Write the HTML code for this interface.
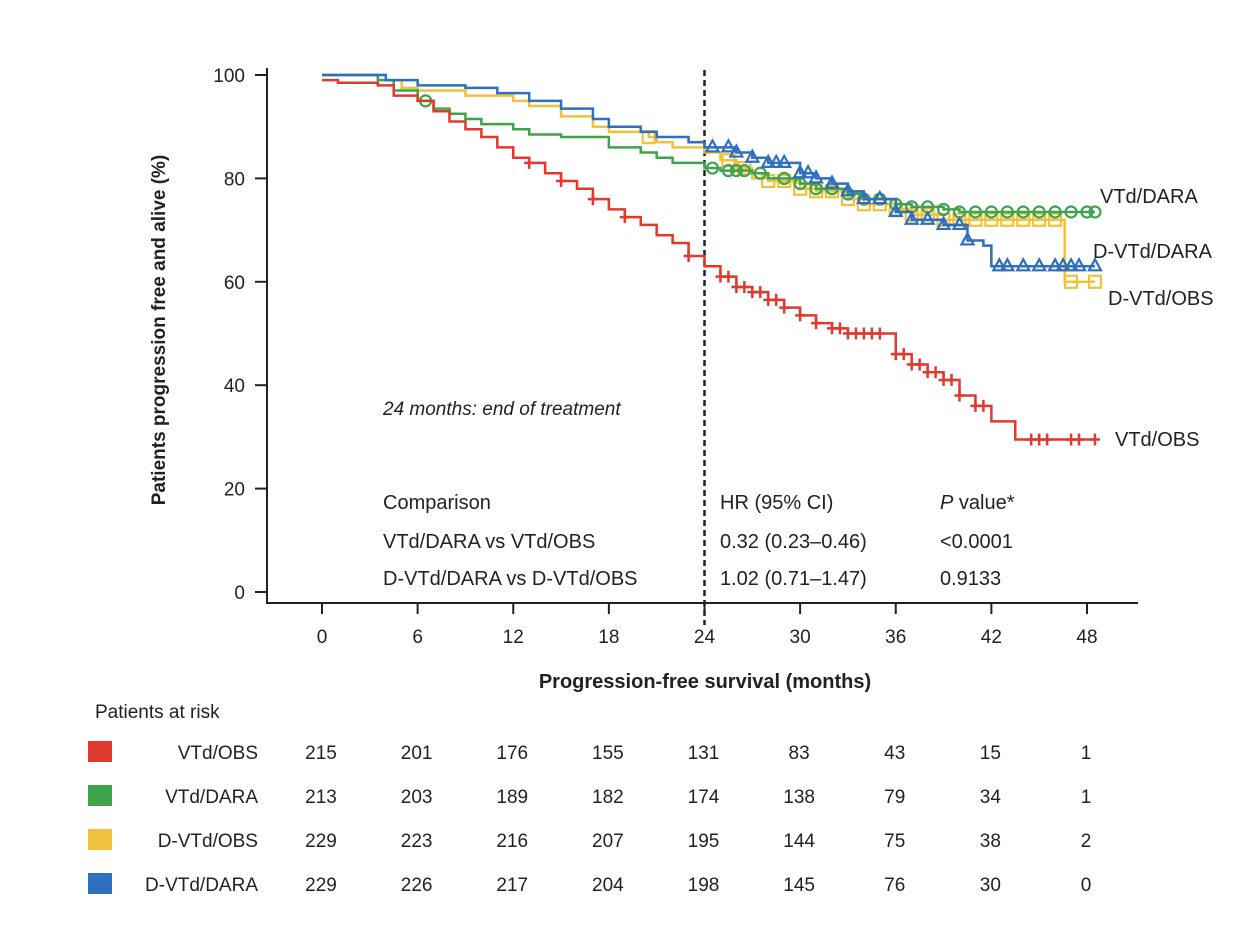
<!DOCTYPE html>
<html><head><meta charset="utf-8"><style>
body{margin:0;background:#fff;}
svg text{font-family:"Liberation Sans",Arial,sans-serif;fill:#222;}
</style></head><body>
<svg id="chart" width="1242" height="936" viewBox="0 0 1242 936" xmlns="http://www.w3.org/2000/svg">
<g id="axes"></g>
<g id="curves"></g>
<g id="texts">
<text x="0" y="0" font-size="19" font-weight="bold" text-anchor="middle" transform="translate(165,330) rotate(-90)">Patients progression free and alive (%)</text>
<text x="705" y="688" font-size="20" font-weight="bold" text-anchor="middle">Progression-free survival (months)</text>
<text x="383" y="415" font-size="19" font-style="italic">24 months: end of treatment</text>
<text x="1100" y="203" font-size="20">VTd/DARA</text>
<text x="1093" y="258" font-size="20">D-VTd/DARA</text>
<text x="1108" y="305" font-size="20">D-VTd/OBS</text>
<text x="1115" y="446" font-size="20">VTd/OBS</text>
<g font-size="20">
<text x="383" y="509">Comparison</text><text x="720" y="509">HR (95% CI)</text><text x="940" y="509"><tspan font-style="italic">P</tspan> value*</text>
<text x="383" y="548">VTd/DARA vs VTd/OBS</text><text x="720" y="548">0.32 (0.23–0.46)</text><text x="940" y="548">&lt;0.0001</text>
<text x="383" y="585">D-VTd/DARA vs D-VTd/OBS</text><text x="720" y="585">1.02 (0.71–1.47)</text><text x="940" y="585">0.9133</text>
</g>
<text x="95" y="718" font-size="19">Patients at risk</text>
</g>
<g id="risk"></g>
</svg>
<script>
const months=[0,6,12,18,24,30,36,42,48];
const yTicks=[0,20,40,60,80,100];
const names=["VTd/OBS","VTd/DARA","D-VTd/OBS","D-VTd/DARA"];
const colors=["#e03a2f","#3fa34d","#f2c13c","#2f6fbf"];
const riskVTdOBS=[215,201,176,155,131,83,43,15,1];
const riskVTdDARA=[213,203,189,182,174,138,79,34,1];
const riskDVTdOBS=[229,223,216,207,195,144,75,38,2];
const riskDVTdDARA=[229,226,217,204,198,145,76,30,0];
const tRed=[0,1,3.5,4.5,6,7,8,9,10,11,12,13,14,15,16,17,18,19,20,21,22,23,24,25,26,27,28,29,30,31,32,33,35,36,37,38,39,40,41,42,43.5,48.5];
const sRed=[99,98.5,98,96,95,93,91,89.5,88,86,84,83,81,79.5,78,76,74,72.5,71,69,67.5,65,63,61,59,58,56.5,55,53.5,52,51,50,50,46,44,42.5,41,38,36,33,29.5,29.5];
const tGreen=[0,3.5,4.5,6,7,8,9,10,12,13,15,18,20,21,22,24,25,27,28,30,31,33,34,36,37,39,40,48.5];
const sGreen=[100,99,97,95,93.5,92.5,91.5,90.5,89.5,88.5,88,86,85,84,83,82,81.5,81,80,79,78,77,76,75,74.5,74,73.5,73.5];
const tYellow=[0,4,5,6,9,12,13,15,17,18,20.5,21,22,24,25,26,27,28,30,31,33,34,36,37,39,46.6,46.6,48.5];
const sYellow=[100,99,97.5,97,96,95,94,92,90,89,88,87,86,85,83.5,82,80,79.5,78,77.5,76,75,74,73,72,72,60,60];
const tBlue=[0,3.5,4,6,9,11,13,15,17,18,20,21,23,24,26,27,28,30,31,32,33,34,36,37,39,40.5,41.5,42,48.5];
const sBlue=[100,100,99,98,97.5,96.5,95,93.5,91.5,90,89,88,87,86,85,84,83,81,80,79,77.5,76,73.5,72,71,68,67,63,63];
const censRed=[13,15,17,19,23,25,25.5,26,26.5,27,27.5,28,28.5,29,30,31,32,32.5,33,33.5,34,34.5,35,36,36.5,37,37.5,38,38.5,39,39.5,40,41,41.5,44.5,45,45.5,47,47.5,48.5];
const censGreen=[6.5,24.5,25.5,26,26.5,27.5,29,30,31,32,33,34,35,36,37,38,39,40,41,42,43,44,45,46,47,48,48.5];
const censYellow=[20.5,25.5,26.5,28,29,30,31,32,33,34,35,36,37,38,39,40,41,42,43,44,45,46,47,48.5];
const censBlue=[24.5,25.5,26,27,28,28.5,29,30,30.5,31,32,33,34,35,36,37,38,39,40,40.5,42.5,43,44,45,46,46.5,47,47.5,48.5];
const X=m=>322+m*(1087-322)/48;
const Y=v=>592-v*(592-75)/100;
const NS="http://www.w3.org/2000/svg";
function mk(tag,attrs,parent){const e=document.createElementNS(NS,tag);for(const k in attrs)e.setAttribute(k,attrs[k]);parent.appendChild(e);return e;}
const axes=document.getElementById('axes');
let l=mk('line',{x1:267,y1:68,x2:267,y2:604,stroke:'#222','stroke-width':2},axes);


l=mk('line',{x1:266,y1:603,x2:1138,y2:603,stroke:'#222','stroke-width':2},axes);


yTicks.forEach(v=>{mk('line',{x1:255,y1:Y(v),x2:267,y2:Y(v),stroke:'#222','stroke-width':2},axes);
 const t=mk('text',{x:245,y:Y(v)+7,'font-size':19,'text-anchor':'end'},axes);t.textContent=v;
 
 });
months.forEach(m=>{mk('line',{x1:X(m),y1:603,x2:X(m),y2:614,stroke:'#222','stroke-width':2},axes);
 const t=mk('text',{x:X(m),y:643,'font-size':19,'text-anchor':'middle'},axes);t.textContent=m;
 
 });
l=mk('line',{x1:X(24),y1:70,x2:X(24),y2:625,stroke:'#222','stroke-width':2.5,'stroke-dasharray':'6,4'},axes);


const curves=document.getElementById('curves');
function stepVal(t,s,m){let v=s[0];for(let i=0;i<t.length;i++){if(t[i]<=m)v=s[i];}return v;}
function draw(t,s,cens,col,name,marker){
 let d=`M${X(t[0])},${Y(s[0])}`;
 for(let i=1;i<t.length;i++){d+=` H${X(t[i])} V${Y(s[i])}`;}
 const p=mk('path',{d:d,fill:'none',stroke:col,'stroke-width':2.5},curves);
 
 
 cens.forEach(m=>{const x=X(m),y=Y(stepVal(t,s,m));let e;
  if(marker==='plus')e=mk('path',{d:`M${x-5},${y}H${x+5}M${x},${y-6}V${y+6}`,stroke:col,'stroke-width':2.5,fill:'none'},curves);
  else if(marker==='circle')e=mk('circle',{cx:x,cy:y,r:5.5,stroke:col,'stroke-width':2.2,fill:'none'},curves);
  else if(marker==='square')e=mk('rect',{x:x-6,y:y-6,width:12,height:12,stroke:col,'stroke-width':2.2,fill:'none'},curves);
  else e=mk('path',{d:`M${x-6},${y+4}L${x},${y-7}L${x+6},${y+4}Z`,stroke:col,'stroke-width':2.2,fill:'none'},curves);
  
  });
}
draw(tYellow,sYellow,censYellow,colors[2],'dvtd-obs','square');
draw(tGreen,sGreen,censGreen,colors[1],'vtd-dara','circle');
draw(tBlue,sBlue,censBlue,colors[3],'dvtd-dara','tri');
draw(tRed,sRed,censRed,colors[0],'vtd-obs','plus');
const risk=document.getElementById('risk');
const rows=[riskVTdOBS,riskVTdDARA,riskDVTdOBS,riskDVTdDARA];
rows.forEach((r,i)=>{const y=752+i*44;
 const sw=mk('rect',{x:88,y:y-11,width:24,height:21,fill:colors[i]},risk);
 
 
 const n=mk('text',{x:258,y:y+7,'font-size':19,'text-anchor':'end'},risk);n.textContent=names[i];
 
 
 r.forEach((v,j)=>{const t=mk('text',{x:X(months[j])-1,y:y+7,'font-size':19,'text-anchor':'middle'},risk);t.textContent=v;
  
  });
});
</script>
</body></html>
